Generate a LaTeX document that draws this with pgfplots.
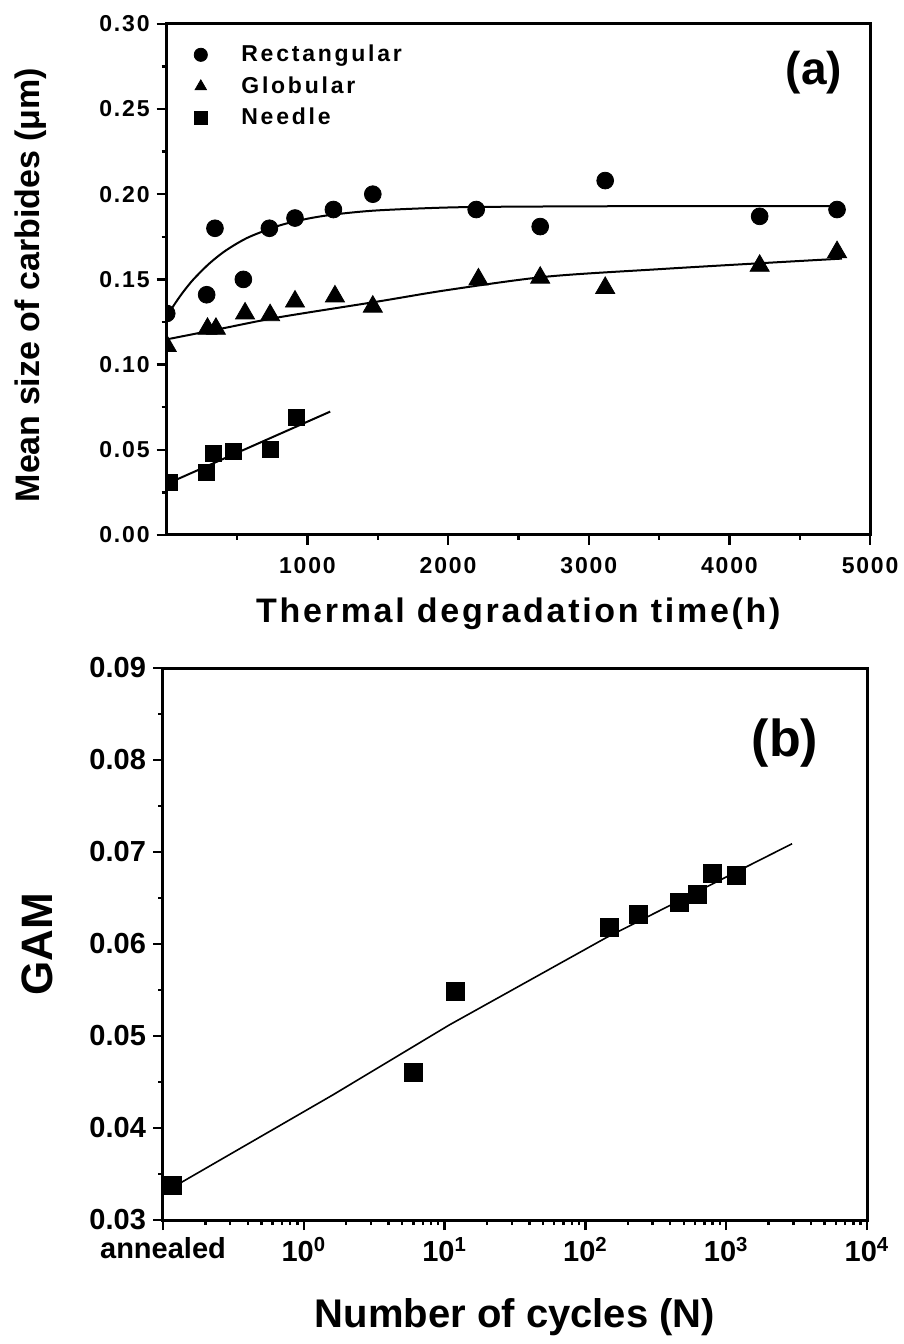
\documentclass[border=0pt]{standalone}
\usepackage{fontspec}
\setmainfont{Liberation Sans}
\newfontfamily\spaced[LetterSpace=8]{Liberation Sans}
\newfontfamily\wide[LetterSpace=8]{Liberation Sans}
\newfontfamily\legfont[LetterSpace=12]{Liberation Sans}
\usepackage{pgfplots}
\pgfplotsset{compat=1.18}

\begin{document}
\begin{tikzpicture}
\useasboundingbox (0,0) rectangle (452pt,672pt);

% (a) carbide size vs thermal degradation time
\begin{axis}[
  at={(83.35pt,404.5pt)}, anchor=south west,
  scale only axis, width=351.7pt, height=255.6pt,
  xmin=0, xmax=5000, ymin=0, ymax=0.30,
  axis line style={line width=1.5pt},
  tick style={line width=1.2pt, black},
  tick align=outside, tick pos=left,
  major tick length=5pt, minor tick length=2.5pt,
  xtick={1000,2000,3000,4000,5000},
  minor xtick={500,1500,2500,3500,4500},
  ytick={0,0.05,0.10,0.15,0.20,0.25,0.30},
  minor ytick={0.025,0.075,0.125,0.175,0.225,0.275},
  scaled ticks=false,
  /pgf/number format/assume math mode=true,
  /pgf/number format/1000 sep={},
  ticklabel style={font=\spaced\bfseries\fontsize{11.5}{13}\selectfont},
  xticklabel style={yshift=-2.5pt},
  yticklabel style={/pgf/number format/.cd, fixed, fixed zerofill, precision=2},
  xlabel={Thermal degradation time(h)},
  xlabel style={at={(axis description cs:0.5,-0.154)}, anchor=center,
    font=\wide\bfseries\fontsize{17}{20}\selectfont},
  ylabel={Mean size of carbides (μm)},
  ylabel style={at={(axis description cs:-0.194,0.489)}, anchor=center,
    font=\bfseries\fontsize{17}{20}\selectfont},
  clip marker paths=true,
  legend style={at={(axis description cs:0.03,0.975)}, anchor=north west,
    draw=none, fill=none, row sep=2pt, column sep=15pt,
    font=\legfont\bfseries\fontsize{11.5}{13}\selectfont},
  legend cell align=left,
  legend image post style={mark size=3.3pt},
]
\addplot[only marks, mark=*, mark size=4.2pt, black] coordinates {
  (0,0.130) (284,0.141) (343,0.180) (545,0.150) (730,0.180) (912,0.186)
  (1185,0.191) (1465,0.200) (2200,0.191) (2655,0.181) (3117,0.208)
  (4215,0.187) (4765,0.191)};
\addlegendentry{Rectangular}
\addplot[only marks, mark=triangle*, mark size=5.5pt, black] coordinates {
  (0,0.111) (290,0.121) (350,0.121) (557,0.130) (735,0.129) (912,0.137)
  (1196,0.140) (1465,0.134) (2216,0.150) (2655,0.151) (3117,0.145)
  (4215,0.158) (4765,0.166)};
\addlegendentry{Globular}
\addplot[only marks, mark=square*, mark size=4pt, black] coordinates {
  (20,0.031) (284,0.037) (332,0.048) (474,0.049) (735,0.050) (924,0.069)};
\addlegendentry{Needle}
% fitted curves
\addplot[line width=1pt, smooth, black, forget plot] coordinates {
  (0,0.128) (50,0.1347) (100,0.1407) (150,0.1461) (200,0.1509) (300,0.1591)
  (400,0.1658) (500,0.1711) (600,0.1754) (800,0.1816) (1000,0.1856)
  (1200,0.1882) (1500,0.1905) (2000,0.1922) (2500,0.1927) (3500,0.1930)
  (4800,0.1930)};
\addplot[line width=1pt, smooth, black, forget plot] coordinates {
  (0,0.1148) (400,0.1213) (800,0.1278) (1500,0.1370) (2000,0.1438)
  (2700,0.1516) (3500,0.1560) (4200,0.1594) (4800,0.1622)};
\addplot[line width=1pt, black, forget plot] coordinates {
  (20,0.0307) (1162,0.0724)};
\node[font=\bfseries\fontsize{23}{26}\selectfont] at (axis description cs:0.920,0.904) {(a)};
\end{axis}

% (b) GAM vs number of cycles
\begin{axis}[
  at={(81.5pt,62pt)}, anchor=south west,
  scale only axis, width=352pt, height=276pt,
  xmode=log, xmin=0.1, xmax=10000, ymin=0.03, ymax=0.09,
  axis line style={line width=1.5pt},
  tick style={line width=1.2pt, black},
  tick align=outside, tick pos=left,
  major tick length=5pt, minor tick length=2.5pt,
  xtick={0.1,1,10,100,1000,10000},
  xticklabels={annealed,10\textsuperscript{0},10\textsuperscript{1},10\textsuperscript{2},10\textsuperscript{3},10\textsuperscript{4}},
  ytick={0.03,0.04,0.05,0.06,0.07,0.08,0.09},
  minor ytick={0.035,0.045,0.055,0.065,0.075,0.085},
  scaled ticks=false,
  /pgf/number format/assume math mode=true,
  ticklabel style={font=\bfseries\fontsize{14.5}{16}\selectfont},
  yticklabel style={/pgf/number format/.cd, fixed, fixed zerofill, precision=2},
  xlabel={Number of cycles (N)},
  xlabel style={at={(axis description cs:0.5,-0.176)}, anchor=center,
    font=\bfseries\fontsize{20}{24}\selectfont},
  ylabel={GAM},
  ylabel style={at={(axis description cs:-0.178,0.5)}, anchor=center,
    font=\bfseries\fontsize{22}{26}\selectfont},
]
\addplot[only marks, mark=square*, mark size=4.5pt, black] coordinates {
  (0.116,0.0338) (6.0,0.0460) (12,0.0548) (148,0.0618) (238,0.0632)
  (464,0.0645) (622,0.0654) (794,0.0677) (1174,0.0675)};
\addplot[line width=0.8pt, black] coordinates {
  (0.132,0.0340) (1.61,0.0436) (10.8,0.0512) (141,0.0607) (2937,0.0709)};
\node[font=\bfseries\fontsize{26}{30}\selectfont] at (axis description cs:0.8835,0.864) {(b)};
\end{axis}
\end{tikzpicture}
\end{document}
